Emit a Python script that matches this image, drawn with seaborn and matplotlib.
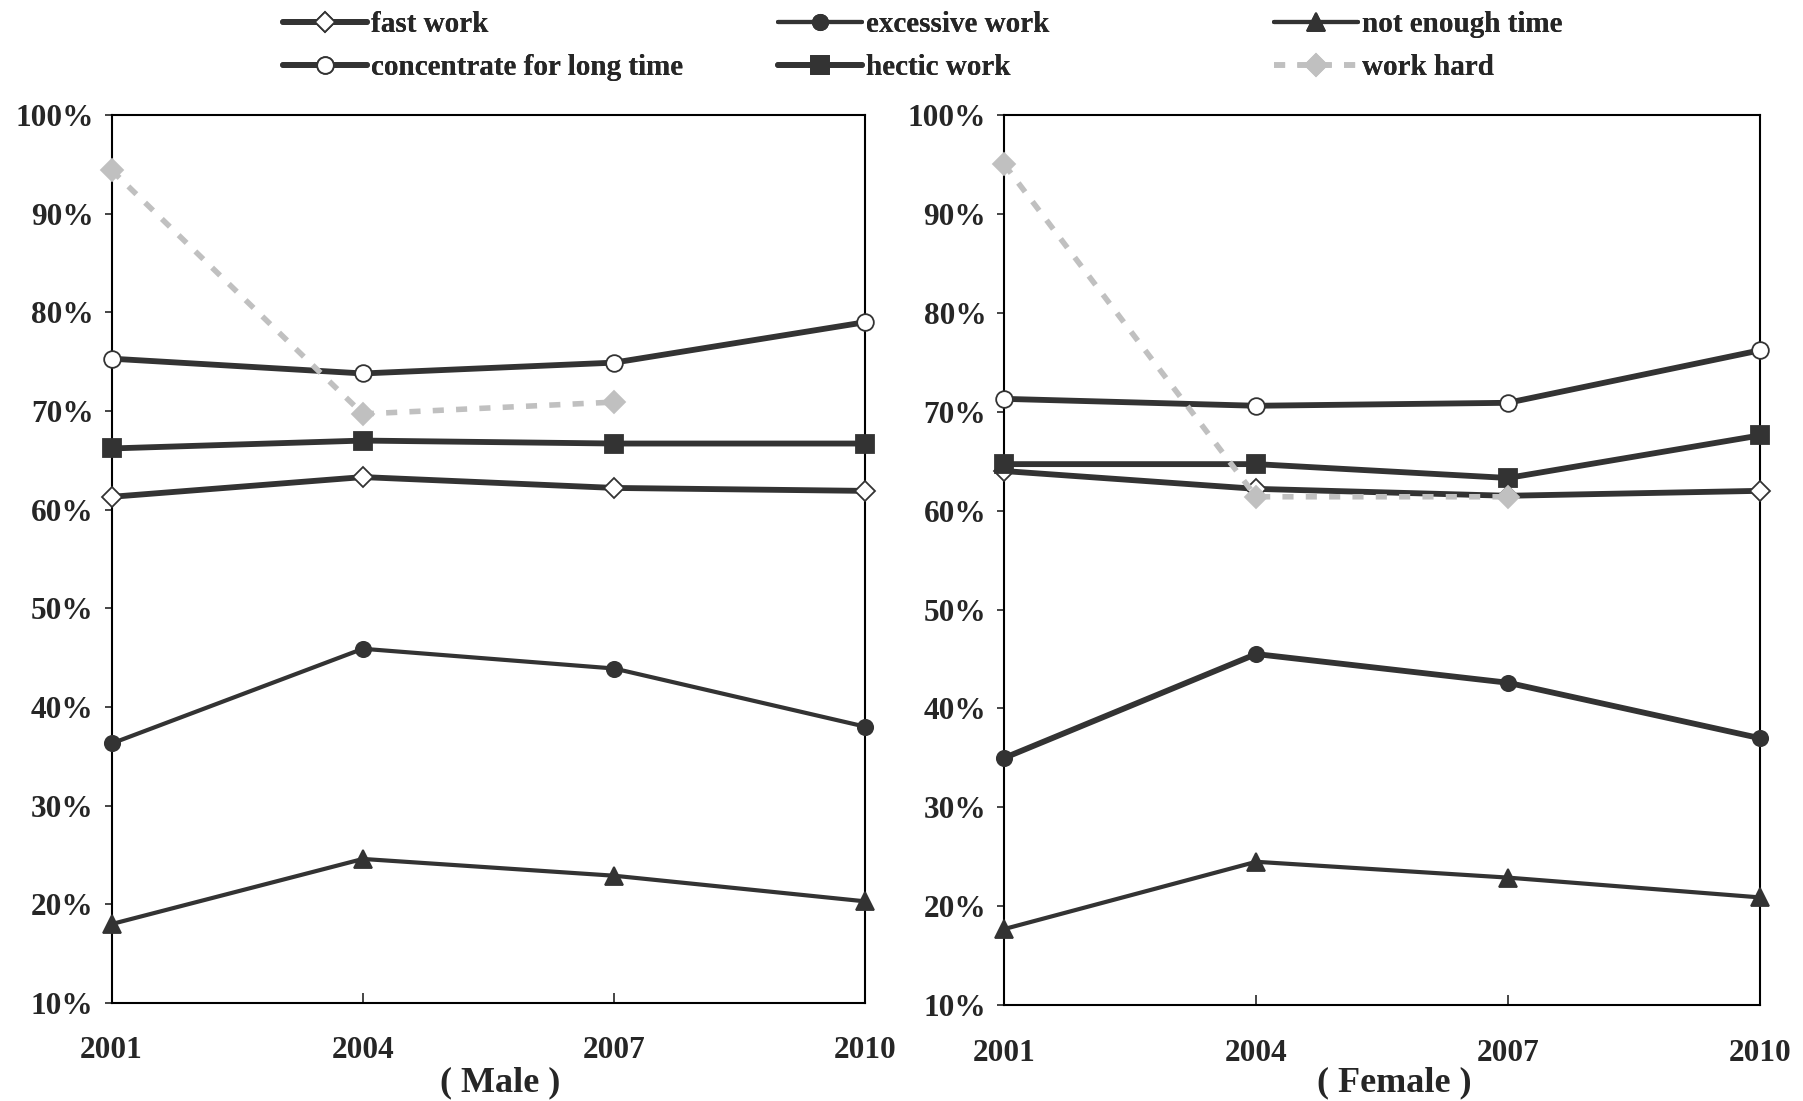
import pandas as pd
import matplotlib
matplotlib.use("Agg")
import matplotlib.pyplot as plt
import seaborn as sns
from matplotlib.ticker import FuncFormatter

# 연도 / 항목
years = [2001, 2004, 2007, 2010]
series_names = ["fast work", "excessive work", "not enough time",
                "concentrate for long time", "hectic work", "work hard"]

# Male (%)
male_fast = [61.3, 63.3, 62.2, 61.9]
male_excessive = [36.3, 45.9, 43.9, 38.0]
male_not_enough = [18.0, 24.6, 22.9, 20.3]
male_concentrate = [75.3, 73.8, 74.9, 79.0]
male_hectic = [66.2, 67.0, 66.7, 66.7]
male_work_hard = [94.4, 69.7, 70.9, None]

# Female (%)
female_fast = [64.0, 62.2, 61.5, 62.0]
female_excessive = [35.0, 45.5, 42.6, 37.0]
female_not_enough = [17.7, 24.5, 22.9, 20.9]
female_concentrate = [71.3, 70.6, 70.9, 76.2]
female_hectic = [64.7, 64.7, 63.3, 67.6]
female_work_hard = [95.0, 61.4, 61.4, None]

y_ticks = [10, 20, 30, 40, 50, 60, 70, 80, 90, 100]
panel_titles = ["( Male )", "( Female )"]

dark = "#333333"
light = "#c0c0c0"
styles = {
    "fast work": dict(marker="D", markersize=10, markerfacecolor="white", color=dark, linewidth=4.2),
    "excessive work": dict(marker="o", markersize=11, markerfacecolor=dark, color=dark, linewidth=3.0),
    "not enough time": dict(marker="^", markersize=13, markerfacecolor=dark, color=dark, linewidth=3.0),
    "concentrate for long time": dict(marker="o", markersize=12, markerfacecolor="white", color=dark, linewidth=4.2),
    "hectic work": dict(marker="s", markersize=13, markerfacecolor=dark, color=dark, linewidth=4.2),
    "work hard": dict(marker="D", markersize=11, markerfacecolor=light, markeredgecolor=light,
                      color=light, linewidth=4.0, linestyle=(0, (2, 2.2))),
}

sns.set_style("white")
plt.rcParams["font.family"] = ["Liberation Serif", "DejaVu Serif"]
plt.rcParams["font.weight"] = "bold"

fig = plt.figure(figsize=(18.03, 11.01), dpi=100)
ax_m = fig.add_axes([0.0619, 0.089, 0.4181, 0.8066])
ax_f = fig.add_axes([0.557, 0.087, 0.419, 0.8086])

panels = [
    (ax_m, [male_fast, male_excessive, male_not_enough, male_concentrate, male_hectic, male_work_hard], 3.0),
    (ax_f, [female_fast, female_excessive, female_not_enough, female_concentrate, female_hectic, female_work_hard], 4.2),
]

handles = {}
for ax, values, exc_lw in panels:
    for name, vals in zip(series_names, values):
        df = pd.DataFrame({"year": years, "value": vals}).dropna()
        st = dict(styles[name])
        mec = st.pop("markeredgecolor", dark)
        if name == "excessive work":
            st["linewidth"] = exc_lw
        sns.lineplot(data=df, x="year", y="value", ax=ax, markeredgecolor=mec,
                     markeredgewidth=1.3, clip_on=False, zorder=3, **st)
        if ax is ax_m:
            handles[name] = ax.lines[-1]
    ax.set_xlim(2001, 2010)
    ax.set_ylim(10, 100)
    ax.set_xticks(years)
    ax.set_yticks(y_ticks)
    ax.yaxis.set_major_formatter(FuncFormatter(lambda v, p: f"{int(v)}%"))
    ax.set_xlabel("")
    ax.set_ylabel("")
    for sp in ax.spines.values():
        sp.set_visible(True)
        sp.set_color("black")
        sp.set_linewidth(1.5)
    ax.tick_params(axis="x", direction="in", length=7, width=1.2, pad=24, labelsize=22.5)
    ax.tick_params(axis="y", direction="out", length=5, width=1.2, pad=8, labelsize=22.5, left=True)
    ax.tick_params(axis="x", bottom=True)

fig.text(500 / 1803, 1 - 1083 / 1101, panel_titles[0], ha="center", va="center", fontsize=26, fontweight="bold")
fig.text(1394 / 1803, 1 - 1083 / 1101, panel_titles[1], ha="center", va="center", fontsize=26, fontweight="bold")

# 범례: 3열 x 2행
columns = [["fast work", "concentrate for long time"],
           ["excessive work", "hectic work"],
           ["not enough time", "work hard"]]
col_x = [265 / 1803, 760 / 1803, 1256 / 1803]
for cx, names in zip(col_x, columns):
    leg = fig.legend([handles[n] for n in names], names, loc="upper left",
                     bbox_to_anchor=(cx, 1.006), frameon=False,
                     handlelength=2.9, handletextpad=0.12, labelspacing=0.55,
                     borderaxespad=0.2, prop={"weight": "bold", "size": 21})
    fig.add_artist(leg)

fig.savefig("out.png", dpi=100)
